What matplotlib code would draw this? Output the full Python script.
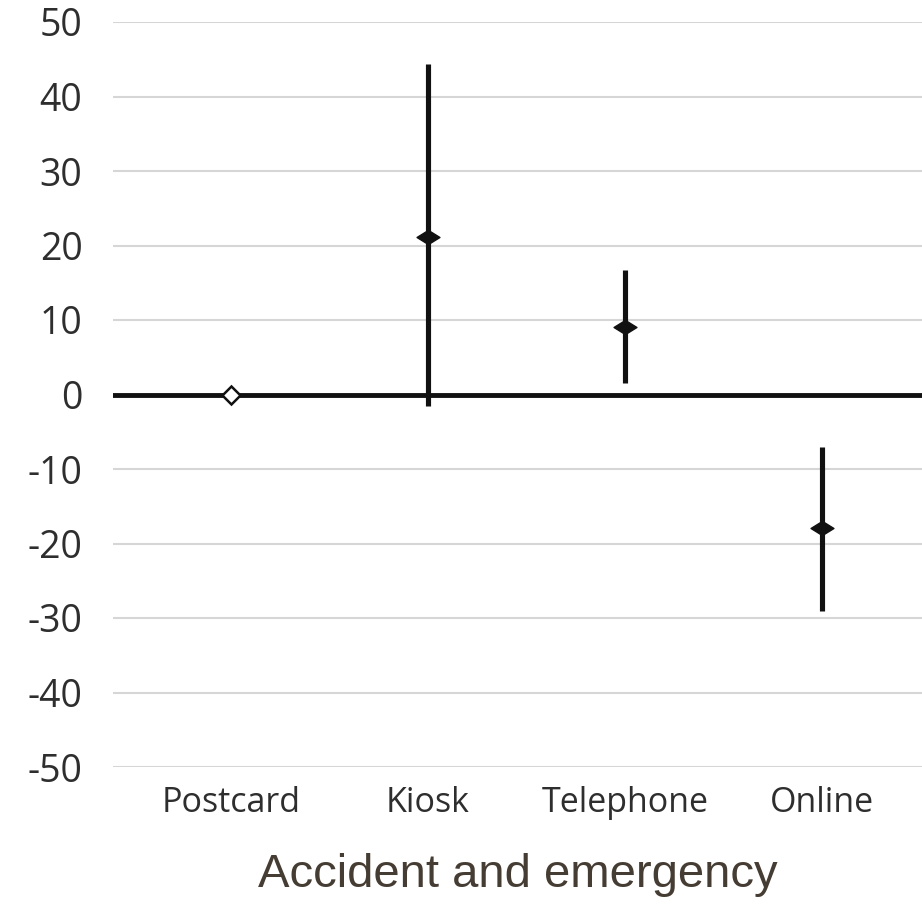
import matplotlib.pyplot as plt
from matplotlib.path import Path

categories = ['Postcard', 'Kiosk', 'Telephone', 'Online']
estimate = [0, 21.2, 9.1, -17.9]
lower = [0, -1.5, 1.6, -29.0]
upper = [0, 44.3, 16.7, -7.1]
y_ticks = [-50, -40, -30, -20, -10, 0, 10, 20, 30, 40, 50]

# flat diamond used for the filled markers
flat_diamond = Path([(-1, 0), (0, 0.62), (1, 0), (0, -0.62), (-1, 0)],
                    [Path.MOVETO, Path.LINETO, Path.LINETO, Path.LINETO, Path.CLOSEPOLY])

fig = plt.figure(figsize=(9.22, 9.18), dpi=100)
ax = fig.add_axes([113 / 922, 1 - 767 / 918, 1 - 113 / 922, 745 / 918])

x = list(range(len(categories)))

for yt in y_ticks:
    if yt != 0:
        ax.axhline(yt, color='#d6d6d6', lw=1.5, zorder=1)
ax.axhline(0, color='#111111', lw=3.5, zorder=2)

for i in x[1:]:
    ax.plot([i, i], [lower[i], upper[i]], color='#111111', lw=3.7,
            solid_capstyle='butt', zorder=3)
    ax.plot(i, estimate[i], marker=flat_diamond, ms=16.5, color='#111111', zorder=4)

ax.plot(x[0], estimate[0], marker='D', ms=9, mfc='white', mec='#111111', mew=1.8, zorder=5)

ax.set_xlim(-0.6, 3.51)
ax.set_ylim(-50, 50)
ax.set_yticks(y_ticks)
ax.set_yticklabels([str(v) for v in y_ticks])
ax.set_xticks(x)
ax.set_xticklabels(categories)

for s in ax.spines.values():
    s.set_visible(False)

ax.tick_params(axis='both', length=0, colors='#2e2e2e')
ax.tick_params(axis='x', pad=13.5, labelsize=24.5)
ax.tick_params(axis='y', pad=22, labelsize=27)
for lbl in ax.get_xticklabels() + ax.get_yticklabels():
    lbl.set_family('Open Sans')

ax.set_xlabel('Accident and emergency', family='Liberation Sans', fontsize=34,
              color='#453d33', labelpad=24)

fig.savefig('out.png', dpi=100)
